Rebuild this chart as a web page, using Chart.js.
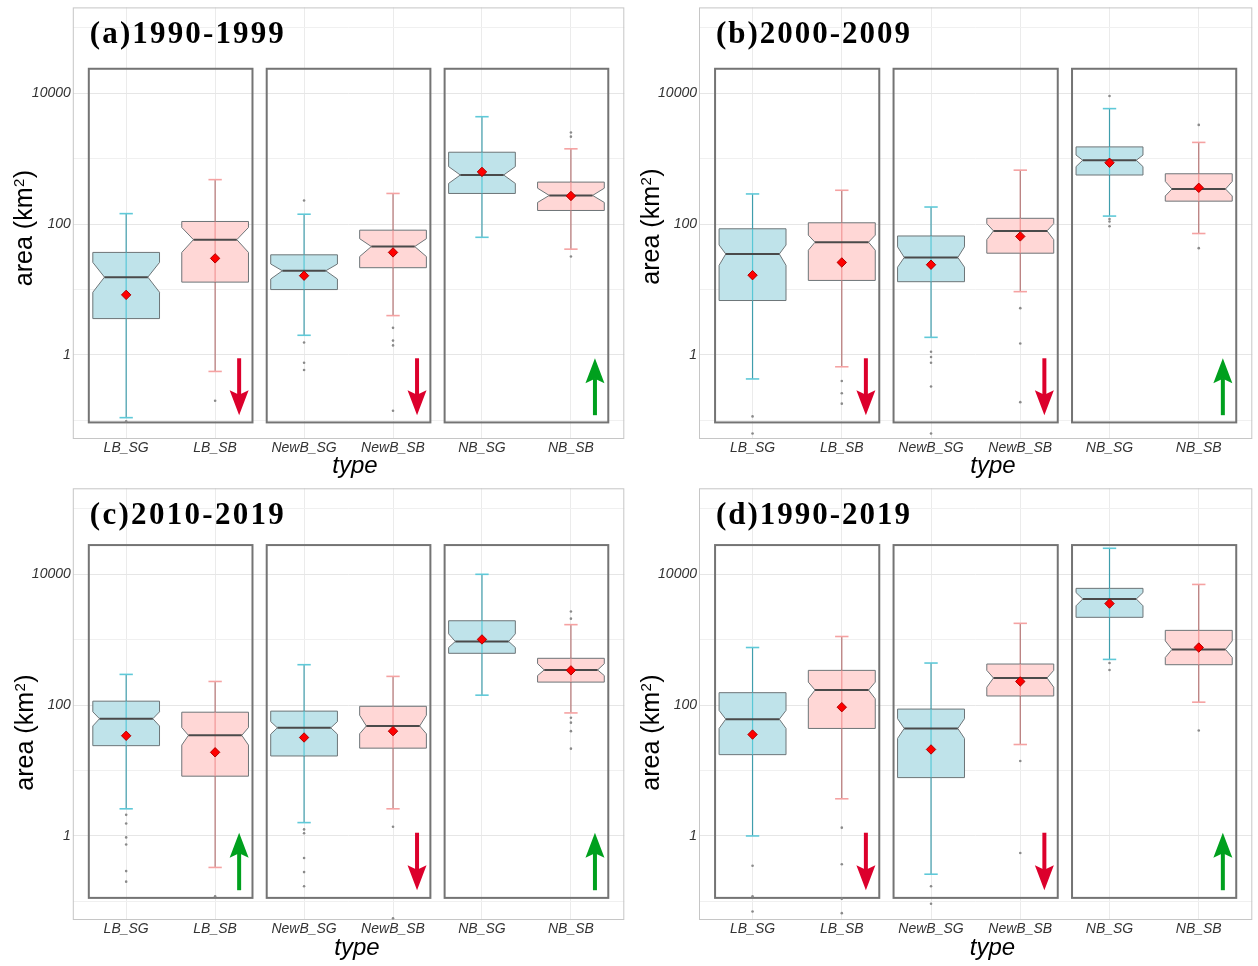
<!DOCTYPE html>
<html><head><meta charset="utf-8">
<script src="https://cdn.jsdelivr.net/npm/chart.js@4.4.0/dist/chart.umd.min.js"></script>
<style>
html,body{margin:0;padding:0;background:#fff;}
body{width:1258px;height:966px;position:relative;overflow:hidden;}
.pan{position:absolute;}
canvas{display:block;}
</style></head><body>
<div class="pan" style="left:0px;top:0px;"><canvas id="c0" width="630" height="482"></canvas></div>
<div class="pan" style="left:630px;top:0px;"><canvas id="c1" width="628" height="482"></canvas></div>
<div class="pan" style="left:0px;top:482px;"><canvas id="c2" width="630" height="484"></canvas></div>
<div class="pan" style="left:630px;top:482px;"><canvas id="c3" width="628" height="484"></canvas></div>
<script>
// ---------------- data ----------------
const categories = ['LB_SG','LB_SB','NewB_SG','NewB_SB','NB_SG','NB_SB'];
const panelTitles = ['(a)1990-1999','(b)2000-2009','(c)2010-2019','(d)1990-2019'];
const xAxisTitle = 'type';
const yAxisTitleParts = ['area (km', '2', ')'];
const yTickValues = [0.1, 1, 10, 100, 1000, 10000, 100000];
const yTickLabels = {1:'1', 100:'100', 10000:'10000'};

const whiskerLow = [
  [0.11, 0.56, 2.0, 4.0, 63, 41.5],
  [0.43, 0.66, 1.86, 9.3, 133, 72],
  [2.6, 0.33, 1.6, 2.6, 142, 76],
  [1.0, 3.7, 0.26, 25, 500, 111]];
const q1 = [
  [3.6, 13, 10, 21.6, 295, 162],
  [6.8, 13.8, 13.2, 36, 565, 225],
  [24, 8.2, 16.7, 22, 620, 225],
  [17.5, 44, 7.8, 138, 2200, 415]];
const notchLow = [
  [9.1, 37, 14.5, 32, 420, 215],
  [23.5, 40, 22, 58, 760, 270],
  [48, 24.5, 36, 36.5, 760, 283],
  [44, 125, 31, 188, 3300, 535]];
const median = [
  [15.5, 58, 19.4, 45.5, 565, 275],
  [35, 53, 31, 79, 950, 345],
  [62, 34.5, 45, 48, 940, 345],
  [61, 170, 44, 260, 4200, 710]];
const notchHigh = [
  [26, 89, 24.6, 60, 760, 355],
  [48, 68, 45, 102, 1140, 450],
  [79, 45.5, 56, 70, 1230, 430],
  [83, 225, 62, 340, 5250, 960]];
const q3 = [
  [37, 110, 34, 81, 1260, 440],
  [85, 105, 66, 123, 1520, 590],
  [115, 78, 81, 96, 1950, 520],
  [155, 340, 87, 425, 6100, 1390]];
const whiskerHigh = [
  [145, 480, 142, 295, 4400, 1420],
  [290, 330, 183, 670, 5850, 1780],
  [295, 230, 415, 275, 10000, 1700],
  [760, 1120, 440, 1780, 25000, 7000]];
const means = [
  [8.3, 30, 16.3, 37, 630, 270],
  [16.6, 26, 24, 65, 870, 360],
  [34, 19, 32, 40, 1010, 340],
  [35.5, 93, 21, 230, 3570, 760]];
const outliers = [
  [[0.097], [0.2], [230, 1.55, 0.76, 0.59], [2.6, 1.66, 1.4, 0.14], [], [2530, 2180, 32]],
  [[0.115, 0.063], [0.40, 0.26, 0.18], [1.12, 0.93, 0.76, 0.33, 0.063], [5.2, 1.5, 0.19], [9100, 120, 110, 93], [3300, 43]],
  [[2.1, 1.55, 0.95, 0.74, 0.29, 0.2], [0.12], [1.26, 1.1, 0.46, 0.28, 0.17], [1.38, 0.055], [], [2700, 2100, 64, 54, 40, 21.6]],
  [[0.35, 0.12, 0.07], [1.34, 0.37, 0.11, 0.066], [0.17, 0.092], [14, 0.55], [440, 345], [41]]];
const trendArrows = [
  ['down', 'down', 'up'],
  ['down', 'down', 'up'],
  ['up', 'down', 'up'],
  ['down', 'down', 'up']];

// ---------------- layout / style ----------------
const panelLayout = [
  {w:630, h:482, plotLeft:72.8, plotRight:626.6, plotTop:7.4, plotBottom:439, facetTop:23800, facetBottom:0.093, arrowTop:0.89, arrowBottom:0.12,
   xTitleX:355, xTitleBase:472.5, yTitleBase:31.7, yTitleMid:228.5, notchRatio:0.65},
  {w:628, h:482, plotLeft:69,   plotRight:624,   plotTop:7.4, plotBottom:439, facetTop:23800, facetBottom:0.093, arrowTop:0.89, arrowBottom:0.12,
   xTitleX:363, xTitleBase:472.5, yTitleBase:28.5, yTitleMid:227, notchRatio:0.8},
  {w:630, h:484, plotLeft:72.8, plotRight:626.6, plotTop:6.3, plotBottom:438, facetTop:28000, facetBottom:0.113, arrowTop:1.12, arrowBottom:0.148,
   xTitleX:357, xTitleBase:472.5, yTitleBase:32.5, yTitleMid:251, notchRatio:0.8},
  {w:628, h:484, plotLeft:69,   plotRight:624,   plotTop:6.3, plotBottom:438, facetTop:28000, facetBottom:0.113, arrowTop:1.12, arrowBottom:0.148,
   xTitleX:362.5, xTitleBase:472.5, yTitleBase:28.5, yTitleMid:251, notchRatio:0.8}];
const Y_MIN = Math.pow(10, -1.285), Y_MAX = Math.pow(10, 5.315);
const SANS = '"Liberation Sans", Arial, sans-serif';
Chart.defaults.font.family = SANS;

function makePlugin(p) {
  const L = panelLayout[p];
  return {
    id: 'boxdraw' + p,
    beforeDatasetsDraw(chart) {
      const ctx = chart.ctx, xs = chart.scales.x, ys = chart.scales.y, ca = chart.chartArea;
      const X = v => xs.getPixelForValue(v), Y = v => ys.getPixelForValue(v);
      const line = (x0, y0, x1, y1) => { ctx.beginPath(); ctx.moveTo(x0, y0); ctx.lineTo(x1, y1); ctx.stroke(); };
      ctx.save();
      // outer panel frame
      ctx.strokeStyle = '#c6c6c6'; ctx.lineWidth = 1;
      ctx.strokeRect(ca.left + 0.5, ca.top + 0.5, ca.right - ca.left - 1, ca.bottom - ca.top - 1);
      // group rectangles
      ctx.strokeStyle = '#747474'; ctx.lineWidth = 2;
      for (let k = 0; k < 3; k++) {
        const x0 = X(2 * k - 0.42), x1 = X(2 * k + 1.42);
        const y0 = Y(L.facetTop), y1 = Y(L.facetBottom);
        ctx.strokeRect(x0, y0, x1 - x0, y1 - y0);
      }
      // boxplots
      for (let i = 0; i < categories.length; i++) {
        const sg = i % 2 === 0;
        const cx = X(i), hw = X(i + 0.375) - cx, nw = hw * L.notchRatio, cw = X(i + 0.075) - cx;
        const yq1 = Y(q1[p][i]), yq3 = Y(q3[p][i]), ym = Y(median[p][i]);
        const ynl = Y(notchLow[p][i]), ynh = Y(notchHigh[p][i]);
        const ywl = Y(whiskerLow[p][i]), ywh = Y(whiskerHigh[p][i]);
        ctx.lineWidth = 1.2;
        ctx.strokeStyle = sg ? '#3f9dac' : '#b57474';
        line(cx, ywh, cx, yq3); line(cx, yq1, cx, ywl);
        ctx.beginPath();
        ctx.moveTo(cx - hw, yq3); ctx.lineTo(cx + hw, yq3); ctx.lineTo(cx + hw, ynh);
        ctx.lineTo(cx + nw, ym); ctx.lineTo(cx + hw, ynl); ctx.lineTo(cx + hw, yq1);
        ctx.lineTo(cx - hw, yq1); ctx.lineTo(cx - hw, ynl); ctx.lineTo(cx - nw, ym);
        ctx.lineTo(cx - hw, ynh); ctx.closePath();
        ctx.fillStyle = sg ? '#bfe3ea' : '#ffd7d6'; ctx.fill();
        ctx.strokeStyle = '#6d7578'; ctx.lineWidth = 1; ctx.stroke();
        ctx.strokeStyle = sg ? 'rgba(70,195,212,0.85)' : 'rgba(238,140,140,0.85)'; ctx.lineWidth = 1.2;
        line(cx, yq3, cx, yq1);
        ctx.strokeStyle = '#4a4a4a'; ctx.lineWidth = 2;
        line(cx - nw, ym, cx + nw, ym);
        ctx.strokeStyle = sg ? '#5fc9d8' : '#f5a2a2'; ctx.lineWidth = 1.6;
        line(cx - cw, ywh, cx + cw, ywh); line(cx - cw, ywl, cx + cw, ywl);
      }
      // trend arrows
      for (let k = 0; k < 3; k++) {
        const up = trendArrows[p][k] === 'up';
        const ax = X(2 * k + 1.27);
        const yT = Y(L.arrowTop), yB = Y(L.arrowBottom);
        const tip = up ? yT : yB, tail = up ? yB : yT, dir = up ? -1 : 1;
        const headLen = 25, headHalf = 9.5;
        ctx.fillStyle = ctx.strokeStyle = up ? '#00a01e' : '#dc002c';
        ctx.lineWidth = 4;
        line(ax, tail, ax, tip - dir * headLen * 0.8);
        ctx.beginPath();
        ctx.moveTo(ax, tip);
        ctx.lineTo(ax - headHalf, tip - dir * headLen);
        ctx.lineTo(ax, tip - dir * headLen * 0.82);
        ctx.lineTo(ax + headHalf, tip - dir * headLen);
        ctx.closePath(); ctx.fill();
      }
      // panel title (fitted to the reference text width)
      ctx.fillStyle = '#000';
      ctx.font = 'bold 31px "Liberation Serif", "Times New Roman", serif';
      ctx.textBaseline = 'alphabetic'; ctx.textAlign = 'left';
      const txt = panelTitles[p];
      const wNat = ctx.measureText(txt).width;
      const spacing = Math.max(0, (194 - wNat) / (txt.length - 1));
      try { ctx.letterSpacing = spacing.toFixed(2) + 'px'; } catch (e) {}
      ctx.fillText(txt, ca.left + 17, ca.top + 36);
      ctx.restore();
    },
    afterDraw(chart) {
      const ctx = chart.ctx;
      ctx.save();
      ctx.fillStyle = '#000';
      ctx.textBaseline = 'alphabetic';
      // x axis title
      ctx.font = 'italic 24px ' + SANS; ctx.textAlign = 'center';
      ctx.fillText(xAxisTitle, L.xTitleX, L.xTitleBase);
      // y axis title with superscript
      ctx.translate(L.yTitleBase, L.yTitleMid); ctx.rotate(-Math.PI / 2);
      ctx.textAlign = 'left';
      const big = '25px ' + SANS, small = '15px ' + SANS;
      ctx.font = big; const w1 = ctx.measureText(yAxisTitleParts[0]).width, w3 = ctx.measureText(yAxisTitleParts[2]).width;
      ctx.font = small; const w2 = ctx.measureText(yAxisTitleParts[1]).width;
      const x0 = -(w1 + w2 + w3) / 2;
      ctx.font = big; ctx.fillText(yAxisTitleParts[0], x0, 0);
      ctx.font = small; ctx.fillText(yAxisTitleParts[1], x0 + w1 + 0.5, -7.5);
      ctx.font = big; ctx.fillText(yAxisTitleParts[2], x0 + w1 + w2 + 1, 0);
      ctx.restore();
    }
  };
}

function buildChart(p) {
  const L = panelLayout[p];
  const meanPts = means[p].map((v, i) => ({x: i, y: v}));
  const outPts = [];
  outliers[p].forEach((arr, i) => arr.forEach(v => outPts.push({x: i, y: v})));
  new Chart(document.getElementById('c' + p), {
    type: 'scatter',
    data: {
      datasets: [
        {label: 'outliers', data: outPts, pointRadius: 1.3, pointBackgroundColor: '#8a8a8a', pointBorderWidth: 0, pointHoverRadius: 1.3},
        {label: 'mean', data: meanPts, pointStyle: 'rectRot', pointRadius: 4.7, pointHoverRadius: 4.7,
         pointBackgroundColor: '#ff0000', pointBorderColor: '#b00000', pointBorderWidth: 1}
      ]
    },
    options: {
      responsive: false, animation: false, events: [],
      layout: {padding: {left: 0, top: L.plotTop, right: L.w - L.plotRight, bottom: 0}},
      plugins: {legend: {display: false}, tooltip: {enabled: false}},
      scales: {
        x: {
          type: 'linear', min: -0.6, max: 5.6, bounds: 'data',
          afterBuildTicks: s => { s.ticks = categories.map((c, i) => ({value: i})); },
          afterFit: s => { s.height = L.h - L.plotBottom; s.paddingLeft = 0; s.paddingRight = 0; },
          ticks: {callback: v => categories[v] ?? '', autoSkip: false, maxRotation: 0, minRotation: 0, padding: 1,
                  color: '#333', font: {family: SANS, size: 14, style: 'italic'}},
          grid: {color: '#ebebeb', drawTicks: false, lineWidth: 1},
          border: {display: false},
          title: {display: false}
        },
        y: {
          type: 'logarithmic', min: Y_MIN, max: Y_MAX, bounds: 'data',
          afterBuildTicks: s => { s.ticks = yTickValues.map(v => ({value: v})); },
          afterFit: s => { s.width = L.plotLeft; s.paddingTop = 0; s.paddingBottom = 0; },
          ticks: {callback: v => yTickLabels[v] ?? '', padding: 2, color: '#333', font: {family: SANS, size: 14, style: 'italic'}},
          grid: {color: c => (c.tick && yTickLabels[c.tick.value]) ? '#e6e6e6' : '#f0f0f0', drawTicks: false, lineWidth: 1},
          border: {display: false},
          title: {display: false}
        }
      }
    },
    plugins: [makePlugin(p)]
  });
}
for (let p = 0; p < 4; p++) buildChart(p);
</script>
</body></html>
